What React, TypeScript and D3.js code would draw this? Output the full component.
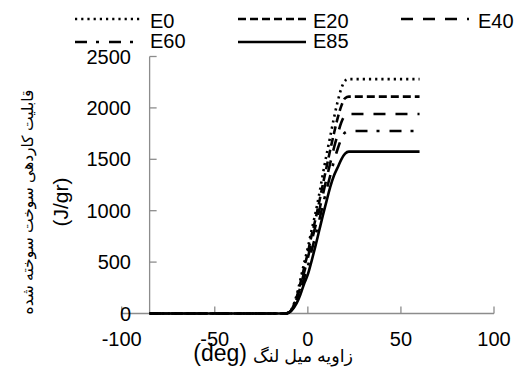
import React from "react";
import * as d3 from "d3";

const crankAngle = [-85, -20, -12, -10, -8, -6, -4, -2, 0, 2, 4, 6, 8, 10, 12, 14, 16, 18, 20, 22, 30, 40, 50, 60];
const e0 = [0, 0, 0, 15, 70, 180, 330, 490, 640, 810, 970, 1150, 1350, 1540, 1720, 1900, 2060, 2190, 2265, 2280, 2280, 2280, 2280, 2280];
const e20 = [0, 0, 0, 13, 62, 160, 295, 445, 590, 760, 910, 1075, 1250, 1420, 1590, 1750, 1900, 2020, 2095, 2110, 2110, 2110, 2110, 2110];
const e40 = [0, 0, 0, 12, 56, 140, 260, 400, 540, 700, 845, 995, 1150, 1310, 1460, 1610, 1740, 1860, 1925, 1940, 1940, 1940, 1940, 1940];
const e60 = [0, 0, 0, 11, 50, 120, 225, 345, 460, 610, 750, 900, 1050, 1200, 1340, 1480, 1600, 1700, 1760, 1775, 1775, 1775, 1775, 1775];
const e85 = [0, 0, 0, 10, 45, 100, 185, 290, 380, 510, 650, 800, 950, 1090, 1230, 1340, 1420, 1500, 1555, 1575, 1575, 1575, 1575, 1575];

const seriesNames = ["E0", "E20", "E40", "E60", "E85"];
const seriesValues = [e0, e20, e40, e60, e85];
const dashes = ["2.2 4", "8 4", "12 10", "12 9 3 10", "none"];

const xTicks = [-100, -50, 0, 50, 100];
const yTicks = [0, 500, 1000, 1500, 2000, 2500];
const yAxisCross = -85;

const yTitle1 = "قابلیت کاردهی  سوخت سوخته شده";
const yTitle2 = "(J/gr)";
const xTitleFa = "زاویه میل لنگ";
const xTitleUnit = "(deg)";

const FONT = "Arial, 'Liberation Sans', 'DejaVu Sans', sans-serif";

export default function App() {
  const x = d3.scaleLinear().domain([-100, 100]).range([121.7, 494]);
  const y = d3.scaleLinear().domain([0, 2500]).range([313.5, 56.5]);
  const line = d3
    .line<[number, number]>()
    .x((d) => x(d[0]))
    .y((d) => y(d[1]))
    .curve(d3.curveMonotoneX);

  const axisColor = "#8c8c8c";
  const x0 = x(yAxisCross);

  const legendPos = [
    { lx: 75, tx: 150, ly: 19, ty: 28 },
    { lx: 238, tx: 313, ly: 19, ty: 28 },
    { lx: 401, tx: 478, ly: 19, ty: 28 },
    { lx: 75, tx: 150, ly: 42, ty: 48 },
    { lx: 238, tx: 313, ly: 42, ty: 48 },
  ];

  return (
    <svg
      width={525}
      height={376}
      style={{ position: "absolute", left: 0, top: 0, background: "#fff" }}
      fontFamily={FONT}
    >
      <rect width={525} height={376} fill="#fff" />
      {/* axes */}
      <line x1={x(-100)} x2={x(100)} y1={y(0)} y2={y(0)} stroke={axisColor} strokeWidth={1.3} />
      <line x1={x0} x2={x0} y1={y(0)} y2={y(2500)} stroke={axisColor} strokeWidth={1.3} />
      {xTicks.map((t) => (
        <g key={"xt" + t}>
          <line x1={x(t)} x2={x(t)} y1={y(0)} y2={y(0) - 7} stroke={axisColor} strokeWidth={1.3} />
          <text x={x(t)} y={346} fontSize={20} textAnchor="middle" fill="#000">
            {t}
          </text>
        </g>
      ))}
      {yTicks.map((t) => (
        <g key={"yt" + t}>
          <line x1={x0} x2={x0 + 7} y1={y(t)} y2={y(t)} stroke={axisColor} strokeWidth={1.3} />
          <text x={131} y={y(t) + 7} fontSize={20} textAnchor="end" fill="#000">
            {t}
          </text>
        </g>
      ))}
      {/* series */}
      {seriesValues.map((vals, i) => (
        <path
          key={seriesNames[i]}
          d={line(crankAngle.map((a, j) => [a, vals[j]] as [number, number])) || ""}
          fill="none"
          stroke="#000"
          strokeWidth={2.6}
          strokeDasharray={dashes[i]}
        />
      ))}
      {/* legend */}
      {seriesNames.map((n, i) => (
        <g key={"lg" + n}>
          <line
            x1={legendPos[i].lx}
            x2={legendPos[i].lx + 68}
            y1={legendPos[i].ly}
            y2={legendPos[i].ly}
            stroke="#000"
            strokeWidth={2.6}
            strokeDasharray={dashes[i]}
          />
          <text x={legendPos[i].tx} y={legendPos[i].ty} fontSize={20} fill="#000">
            {n}
          </text>
        </g>
      ))}
      {/* titles */}
      <text
        transform="translate(33,202) rotate(-90)"
        fontSize={15.5}
        textAnchor="middle"
        fill="#000"
      >
        {yTitle1}
      </text>
      <text transform="translate(68,202) rotate(-90)" fontSize={21} textAnchor="middle" fill="#000">
        {yTitle2}
      </text>
      <text x={247} y={361} fontSize={23} textAnchor="end" fill="#000">
        {xTitleUnit}
      </text>
      <text x={353} y={362} fontSize={17.5} textAnchor="end" fill="#000">
        {xTitleFa}
      </text>
    </svg>
  );
}
